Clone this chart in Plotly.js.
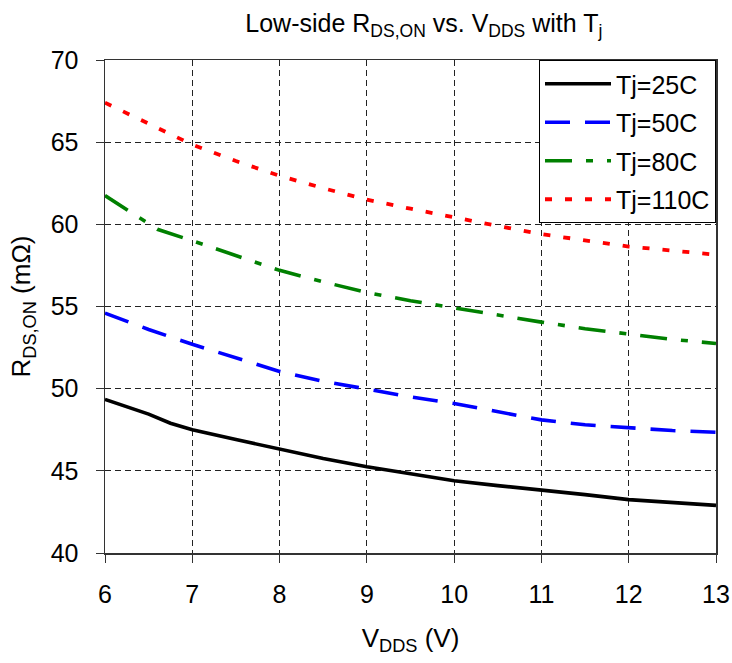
<!DOCTYPE html>
<html><head><meta charset="utf-8">
<script src="https://cdn.plot.ly/plotly-3.0.1.min.js"></script>
<style>body{margin:0;background:#fff}#c{width:732px;height:663px}</style>
</head><body><div id="c"></div>
<script>
const vdds25 = [6, 6.5, 6.75, 7, 7.5, 8, 8.5, 9, 9.5, 10, 10.5, 11, 11.5, 12, 12.5, 13];
const tj25   = [49.35, 48.45, 47.9, 47.5, 46.9, 46.3, 45.75, 45.25, 44.8, 44.4, 44.1, 43.85, 43.55, 43.25, 43.05, 42.9];
const vdds   = [6, 6.5, 7, 7.5, 8, 8.5, 9, 9.5, 10, 10.5, 11, 11.5, 12, 12.5, 13];
const tj50   = [54.6, 53.6, 52.7, 51.85, 51.05, 50.45, 49.95, 49.5, 49.1, 48.6, 48.1, 47.8, 47.6, 47.45, 47.35];
const vdds80 = [6, 6.25, 6.5, 6.6, 7, 7.5, 8, 8.5, 9, 9.5, 10, 10.5, 11, 11.5, 12, 12.5, 13];
const tj80   = [61.75, 60.9, 60.1, 59.7, 59.0, 58.1, 57.2, 56.5, 55.85, 55.35, 54.9, 54.45, 54.05, 53.65, 53.3, 53.0, 52.75];
const tj110  = [67.4, 66.1, 64.85, 63.85, 62.95, 62.2, 61.5, 60.95, 60.4, 59.9, 59.4, 59.0, 58.65, 58.4, 58.15];
const names  = ['Tj=25C', 'Tj=50C', 'Tj=80C', 'Tj=110C'];

const traces = [
  {x: vdds25, y: tj25, name: names[0], legendgroup: 'a', line: {color: '#000', width: 3.6, dash: 'solid'}},
  {x: vdds, y: tj50, name: names[1], legendgroup: 'b', line: {color: '#0000ff', width: 3.6, dash: '25px,15px'}},
  {x: vdds80, y: tj80, name: names[2], legendgroup: 'c', line: {color: '#008000', width: 3.6, dash: '27px,14px,7px,14px'}},
  {x: vdds, y: tj110, name: names[3], legendgroup: 'd', line: {color: '#ff0000', width: 3.8, dash: '7px,13px'}}
].map(t => Object.assign({type: 'scatter', mode: 'lines'}, t));

const font = {family: 'Liberation Sans, Arial, sans-serif', color: '#000'};
const layout = {
  width: 732, height: 663,
  margin: {l: 105, r: 16, t: 60, b: 110},
  paper_bgcolor: '#fff', plot_bgcolor: '#fff',
  font: Object.assign({size: 25}, font),
  title: {text: 'Low-side R<sub>DS,ON</sub> vs. V<sub>DDS</sub> with T<sub>j</sub>', font: Object.assign({size: 25}, font),
          xref: 'container', x: 0.579, xanchor: 'center', yref: 'container', y: 0.965, yanchor: 'middle'},
  xaxis: {range: [6, 13], dtick: 1, tick0: 6, showgrid: true, gridcolor: '#222', griddash: '6px,4px', gridwidth: 1,
          showline: true, linecolor: '#333', linewidth: 1.5, mirror: true, ticks: 'outside', ticklen: 8, tickcolor: '#333',
          zeroline: false, tickfont: Object.assign({size: 25}, font), ticklabelstandoff: 10,
          title: {text: 'V<sub>DDS</sub> (V)', font: Object.assign({size: 26}, font), standoff: 22}},
  yaxis: {range: [40, 70], dtick: 5, showgrid: true, gridcolor: '#222', griddash: '6px,4px', gridwidth: 1,
          showline: true, linecolor: '#333', linewidth: 1.5, mirror: true, ticks: 'outside', ticklen: 8, tickcolor: '#333',
          zeroline: false, tickfont: Object.assign({size: 25}, font), ticklabelstandoff: 12,
          title: {text: 'R<sub>DS,ON</sub> (mΩ)', font: Object.assign({size: 26}, font), standoff: 12}},
  legend: {x: 1, y: 1, xanchor: 'right', yanchor: 'top', bgcolor: '#fff', bordercolor: '#000', borderwidth: 1,
           font: Object.assign({size: 25}, font), itemwidth: 66, tracegroupgap: 3},
  showlegend: true
};
Plotly.newPlot('c', traces, layout, {displayModeBar: false, staticPlot: true});
</script></body></html>
